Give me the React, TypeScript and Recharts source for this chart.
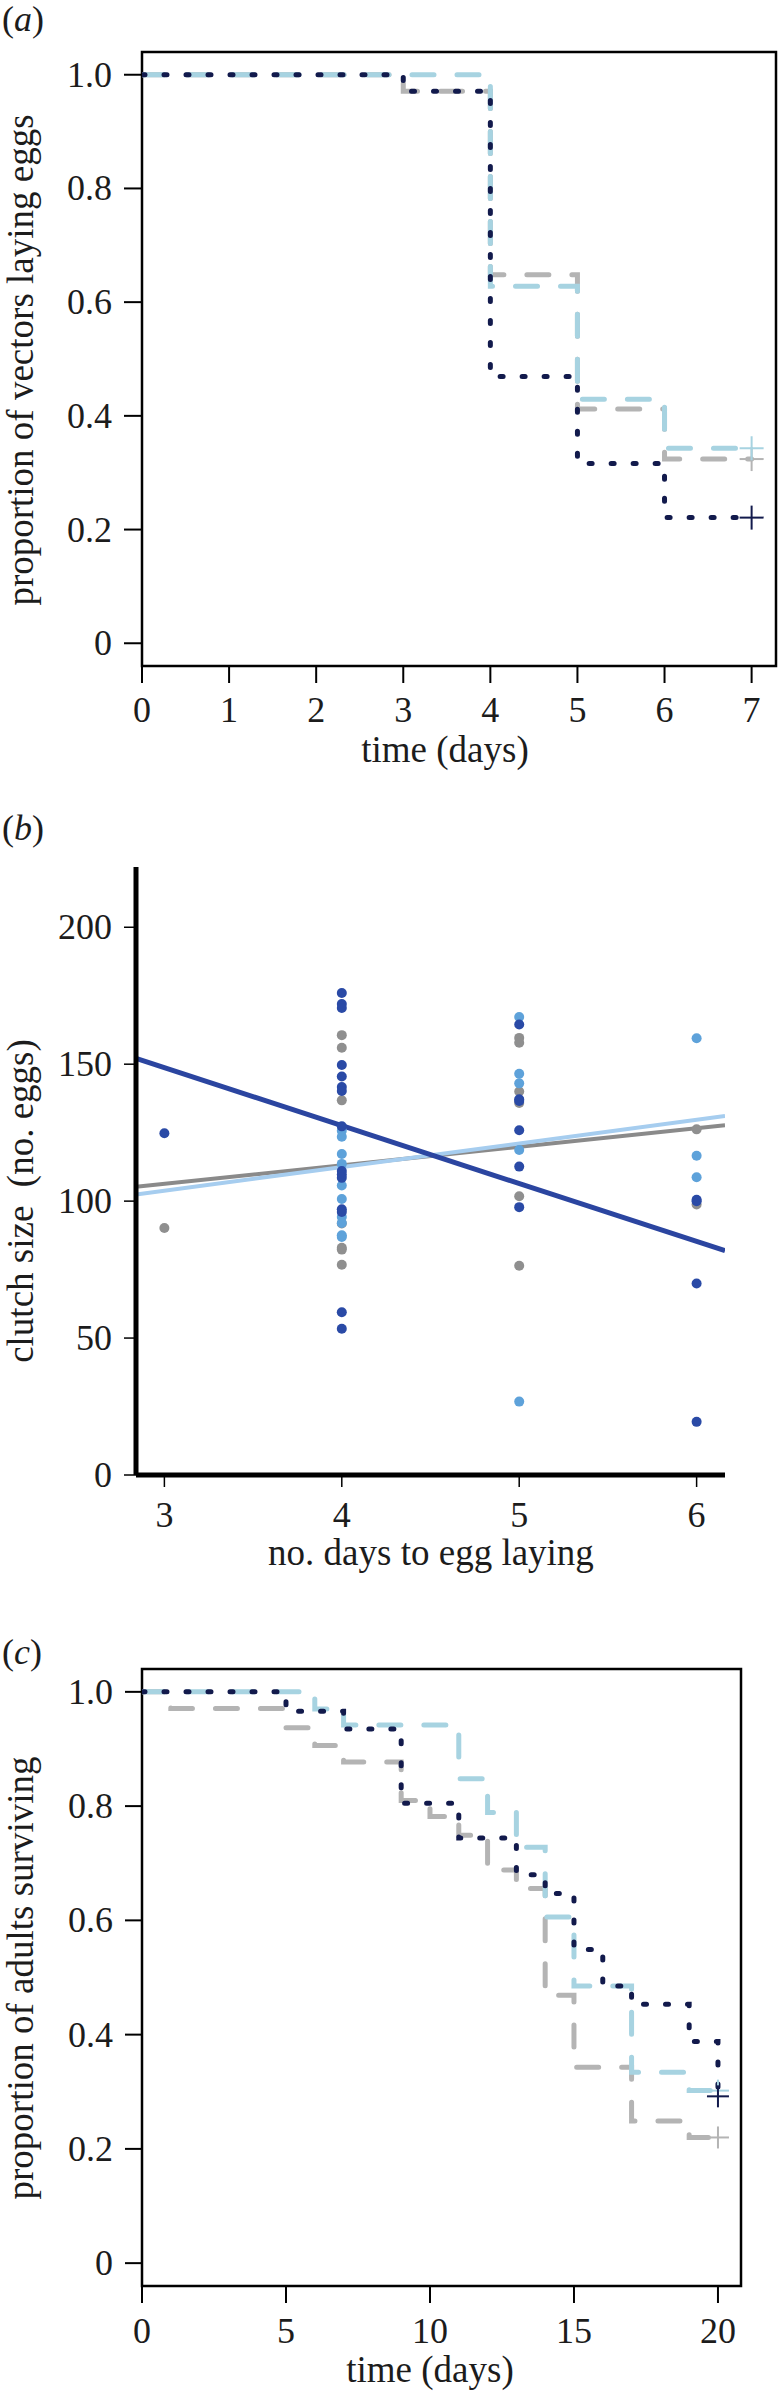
import React from 'react'
import { ComposedChart, Line, Scatter, XAxis, YAxis, ReferenceArea } from 'recharts'

const SERIF = '"Liberation Serif", "Times New Roman", Times, serif'
const INK = '#1c1c1c'

const NAVY = '#121a4c'
const PALE = '#a7d3e1'
const GREY = '#b4b4b4'

const DARK_DOT = '#2a4aa6'
const MID_DOT = '#5ea2da'
const GREY_DOT = '#8f8f8f'
const DARK_FIT = '#2b45a0'
const PALE_FIT = '#a6cdef'
const GREY_FIT = '#8a8a8a'

// (a) proportion of vectors laying eggs
const daysA = [0, 3, 4, 5, 6, 7]
const navyA = [1, 0.971, 0.469, 0.316, 0.221, 0.221]
const greyA = [1, 0.971, 0.648, 0.412, 0.324, 0.324]
const paleA = [1, 1, 0.628, 0.429, 0.343, 0.343]
const dayTicksA = [0, 1, 2, 3, 4, 5, 6, 7]
const propTicks = [0, 0.2, 0.4, 0.6, 0.8, 1]

// (b) clutch size against days to egg laying
const darkDays = [3, 4, 4, 4, 4, 4, 4, 4, 4, 4, 4, 4, 4, 4, 4, 4, 5, 5, 5, 5, 5, 5, 6, 6, 6, 6]
const darkEggs = [124.8, 176, 172, 170.5, 149.7, 145.5, 141.7, 140.2, 127.3, 111, 109.7, 108.5, 97, 96, 59.4, 53.4,
  164.5, 137.2, 136.6, 125.9, 112.6, 97.8, 100.5, 100, 69.9, 19.4]
const midDays = [4, 4, 4, 4, 4, 4, 4, 4, 4, 4, 5, 5, 5, 5, 5, 6, 6, 6]
const midEggs = [125.7, 123.5, 117.2, 113.6, 105.7, 100.8, 94.2, 92, 87.5, 86.9, 167.2, 146.5, 143, 118.7, 26.8,
  159.5, 116.6, 108.7]
const greyDays = [3, 4, 4, 4, 4, 4, 4, 4, 5, 5, 5, 5, 5, 5, 6, 6]
const greyEggs = [90.2, 160.6, 156, 136.8, 91.8, 83, 82.3, 76.8, 159.6, 157.8, 140, 135.8, 101.8, 76.4, 126.2, 98.8]
const fitDays = [2.84, 6.16]
const darkFit = [152.1, 81.9]
const paleFit = [102.4, 131.1]
const greyFit = [105.2, 127.7]
const dayTicksB = [3, 4, 5, 6]
const eggTicks = [0, 50, 100, 150, 200]

// (c) proportion of adults surviving
const navyDaysC = [0, 5, 7, 9, 11, 13, 14, 15, 16, 17, 19, 20]
const navyC = [1, 0.966, 0.935, 0.805, 0.744, 0.68, 0.647, 0.549, 0.485, 0.453, 0.388, 0.292]
const paleDaysC = [0, 6, 7, 11, 12, 13, 14, 15, 17, 19, 20]
const paleC = [1, 0.97, 0.942, 0.848, 0.789, 0.728, 0.606, 0.485, 0.334, 0.302, 0.302]
const greyDaysC = [0, 1, 5, 6, 7, 9, 10, 11, 12, 13, 14, 15, 17, 19, 20]
const greyC = [1, 0.971, 0.937, 0.906, 0.877, 0.81, 0.782, 0.749, 0.688, 0.656, 0.469, 0.343, 0.249, 0.22, 0.22]
const dayTicksC = [0, 5, 10, 15, 20]

const steps = (t: number[], s: number[]) => t.map((d, i) => ({ t: d, s: s[i] }))
const points = (x: number[], y: number[]) => x.map((d, i) => ({ x: d, y: y[i] }))

// censor mark (+) on the last point of a survival curve
const plusAtEnd = (color: string, last: number, half: number) => (props: any) => {
  const { cx, cy, index } = props
  if (index !== last) return <g key={'d' + index} />
  return (
    <g key={'d' + index}>
      <line x1={cx - half} x2={cx + half} y1={cy} y2={cy} stroke={color} strokeWidth={2} />
      <line x1={cx} x2={cx} y1={cy - half} y2={cy + half} stroke={color} strokeWidth={2} />
    </g>
  )
}

const yTick = (fmt: (v: number) => string) => (props: any) => (
  <text x={props.x} y={props.y} dy={12} textAnchor="end" fontFamily={SERIF} fontSize={36} fill={INK}>
    {fmt(props.payload.value)}
  </text>
)

const xTick = (dy: number) => (props: any) => (
  <text x={props.x} y={props.y} dy={dy} textAnchor="middle" fontFamily={SERIF} fontSize={36} fill={INK}>
    {props.payload.value}
  </text>
)

const propFmt = (v: number) => (v === 0 ? '0' : v.toFixed(1))

function PanelA() {
  return (
    <ComposedChart width={779} height={780} margin={{ top: 52, right: 3, bottom: 0, left: 0 }}>
      <XAxis type="number" dataKey="t" domain={[0, 7.28]} ticks={dayTicksA} interval={0} allowDataOverflow
        axisLine={false} tickLine={{ stroke: '#000', strokeWidth: 2 }} tickSize={17} tickMargin={0}
        height={114} tick={xTick(39)} />
      <YAxis type="number" dataKey="s" domain={[-0.04, 1.04]} ticks={propTicks} interval={0} allowDataOverflow
        axisLine={false} tickLine={{ stroke: '#000', strokeWidth: 2 }} tickSize={18} tickMargin={12}
        width={142} tick={yTick(propFmt)} />
      <ReferenceArea x1={0} x2={7.28} y1={-0.04} y2={1.04} fill="none" stroke="#000" strokeWidth={2.5} ifOverflow="visible" />
      <Line data={steps(daysA, greyA)} dataKey="s" type="stepAfter" stroke={GREY} strokeWidth={5}
        strokeDasharray="22 23" strokeLinecap="round" dot={plusAtEnd(GREY, daysA.length - 1, 12)}
        activeDot={false} isAnimationActive={false} />
      <Line data={steps(daysA, paleA)} dataKey="s" type="stepAfter" stroke={PALE} strokeWidth={5}
        strokeDasharray="22 23" strokeLinecap="round" dot={plusAtEnd(PALE, daysA.length - 1, 12)}
        activeDot={false} isAnimationActive={false} />
      <Line data={steps(daysA, navyA)} dataKey="s" type="stepAfter" stroke={NAVY} strokeWidth={5}
        strokeDasharray="3 19" strokeLinecap="round" dot={plusAtEnd(NAVY, daysA.length - 1, 12)}
        activeDot={false} isAnimationActive={false} />
    </ComposedChart>
  )
}

const dotShape = (color: string) => (props: any) => <circle cx={props.cx} cy={props.cy} r={5} fill={color} />

function PanelB() {
  return (
    <ComposedChart width={779} height={800} margin={{ top: 87, right: 54, bottom: 0, left: 0 }}>
      <XAxis type="number" dataKey="x" domain={[2.84, 6.16]} ticks={dayTicksB} interval={0} allowDataOverflow
        axisLine={{ stroke: '#000', strokeWidth: 5 }} tickLine={{ stroke: '#000', strokeWidth: 1.5 }}
        tickSize={12} tickMargin={0} height={105} tick={xTick(40)} />
      <YAxis type="number" dataKey="y" domain={[0, 222]} ticks={eggTicks} interval={0} allowDataOverflow
        axisLine={{ stroke: '#000', strokeWidth: 5 }} tickLine={{ stroke: '#000', strokeWidth: 1.5 }}
        tickSize={12} tickMargin={12} width={136} tick={yTick((v) => String(v))} />
      <Scatter data={points(greyDays, greyEggs)} shape={dotShape(GREY_DOT)} isAnimationActive={false} />
      <Scatter data={points(midDays, midEggs)} shape={dotShape(MID_DOT)} isAnimationActive={false} />
      <Scatter data={points(darkDays, darkEggs)} shape={dotShape(DARK_DOT)} isAnimationActive={false} />
      <Line data={points(fitDays, greyFit)} dataKey="y" type="linear" stroke={GREY_FIT} strokeWidth={4}
        dot={false} activeDot={false} isAnimationActive={false} />
      <Line data={points(fitDays, paleFit)} dataKey="y" type="linear" stroke={PALE_FIT} strokeWidth={4}
        dot={false} activeDot={false} isAnimationActive={false} />
      <Line data={points(fitDays, darkFit)} dataKey="y" type="linear" stroke={DARK_FIT} strokeWidth={5}
        dot={false} activeDot={false} isAnimationActive={false} />
    </ComposedChart>
  )
}

function PanelC() {
  return (
    <ComposedChart width={779} height={811} margin={{ top: 89, right: 38, bottom: 0, left: 0 }}>
      <XAxis type="number" dataKey="t" domain={[0, 20.8]} ticks={dayTicksC} interval={0} allowDataOverflow
        axisLine={false} tickLine={{ stroke: '#000', strokeWidth: 2 }} tickSize={17} tickMargin={0}
        height={105} tick={xTick(40)} />
      <YAxis type="number" dataKey="s" domain={[-0.04, 1.04]} ticks={propTicks} interval={0} allowDataOverflow
        axisLine={false} tickLine={{ stroke: '#000', strokeWidth: 2 }} tickSize={17} tickMargin={12}
        width={142} tick={yTick(propFmt)} />
      <ReferenceArea x1={0} x2={20.8} y1={-0.04} y2={1.04} fill="none" stroke="#000" strokeWidth={2.5} ifOverflow="visible" />
      <Line data={steps(greyDaysC, greyC)} dataKey="s" type="stepAfter" stroke={GREY} strokeWidth={5}
        strokeDasharray="22 23" strokeLinecap="round" dot={plusAtEnd(GREY, greyDaysC.length - 1, 11)}
        activeDot={false} isAnimationActive={false} />
      <Line data={steps(paleDaysC, paleC)} dataKey="s" type="stepAfter" stroke={PALE} strokeWidth={5}
        strokeDasharray="22 23" strokeLinecap="round" dot={plusAtEnd(PALE, paleDaysC.length - 1, 11)}
        activeDot={false} isAnimationActive={false} />
      <Line data={steps(navyDaysC, navyC)} dataKey="s" type="stepAfter" stroke={NAVY} strokeWidth={5}
        strokeDasharray="3 19" strokeLinecap="round" dot={plusAtEnd(NAVY, navyDaysC.length - 1, 11)}
        activeDot={false} isAnimationActive={false} />
    </ComposedChart>
  )
}

function Letter({ y, ch }: { y: number; ch: string }) {
  return (
    <text x={2} y={y} fontFamily={SERIF} fontSize={36} fill={INK}>
      (<tspan fontStyle="italic">{ch}</tspan>)
    </text>
  )
}

function YTitle({ cy, label }: { cy: number; label: string }) {
  return (
    <text x={0} y={0} transform={`translate(33 ${cy}) rotate(-90)`} textAnchor="middle"
      fontFamily={SERIF} fontSize={37} fill={INK} style={{ whiteSpace: 'pre' }}>
      {label}
    </text>
  )
}

function XTitle({ cx, y, label }: { cx: number; y: number; label: string }) {
  return (
    <text x={cx} y={y} textAnchor="middle" fontFamily={SERIF} fontSize={37} fill={INK}>
      {label}
    </text>
  )
}

export default function App() {
  return (
    <div style={{ position: 'absolute', left: 0, top: 0, width: 779, height: 2391, overflow: 'hidden', background: '#fff' }}>
      <div style={{ position: 'absolute', left: 0, top: 0 }}>
        <PanelA />
      </div>
      <div style={{ position: 'absolute', left: 0, top: 780 }}>
        <PanelB />
      </div>
      <div style={{ position: 'absolute', left: 0, top: 1580 }}>
        <PanelC />
      </div>
      <svg width={779} height={2391} style={{ position: 'absolute', left: 0, top: 0, pointerEvents: 'none' }}>
        <Letter y={31} ch="a" />
        <YTitle cy={360} label="proportion of vectors laying eggs" />
        <XTitle cx={445} y={762} label="time (days)" />
        <Letter y={840} ch="b" />
        <YTitle cy={1201} label="clutch size  (no. eggs)" />
        <XTitle cx={431} y={1565} label="no. days to egg laying" />
        <Letter y={1664} ch="c" />
        <YTitle cy={1978} label="proportion of adults surviving" />
        <XTitle cx={430} y={2382} label="time (days)" />
      </svg>
    </div>
  )
}
